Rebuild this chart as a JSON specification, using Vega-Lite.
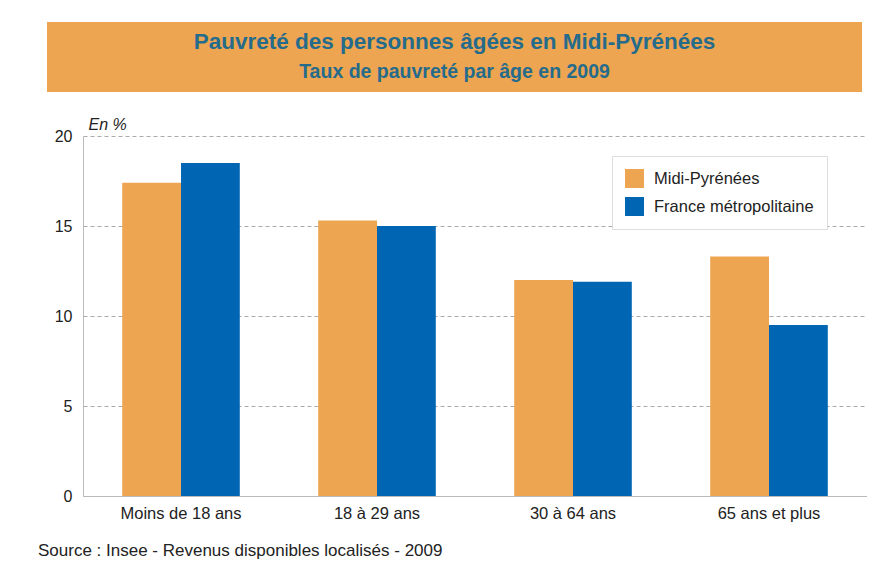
{
  "$schema": "https://vega.github.io/schema/vega-lite/v6.json",
  "background": "white",
  "padding": {"left": 38, "top": 22, "right": 0, "bottom": 0},
  "config": {
    "font": "Liberation Sans",
    "view": {"stroke": null},
    "concat": {"spacing": 24}
  },
  "title": {
    "text": "Source : Insee - Revenus disponibles localisés - 2009",
    "orient": "bottom",
    "anchor": "start",
    "frame": "bounds",
    "fontSize": 17,
    "fontWeight": "normal",
    "color": "#222222",
    "offset": 21,
    "dx": -9
  },
  "resolve": {"legend": {"color": "independent"}},
  "vconcat": [
    {
      "width": 815,
      "height": 70,
      "view": {"fill": "#EDA551", "stroke": null},
      "data": {
        "values": [
          {"ligne": "titre", "texte": "Pauvreté des personnes âgées en Midi-Pyrénées"},
          {"ligne": "sous-titre", "texte": "Taux de pauvreté par âge en 2009"}
        ]
      },
      "encoding": {
        "y": {"field": "ligne", "type": "nominal", "sort": ["titre", "sous-titre"], "axis": null, "scale": {"padding": 0.667}},
        "text": {"field": "texte", "type": "nominal"}
      },
      "layer": [
        {
          "transform": [{"filter": "datum.ligne === 'titre'"}],
          "mark": {"type": "text", "fontSize": 22.5, "fontWeight": "bold", "color": "#256B8C"}
        },
        {
          "transform": [{"filter": "datum.ligne === 'sous-titre'"}],
          "mark": {"type": "text", "fontSize": 19.5, "fontWeight": "bold", "color": "#256B8C"}
        }
      ]
    },
    {
      "width": 820,
      "height": 360,
      "data": {
        "values": [
          {"age": "Moins de 18 ans", "zone": "Midi-Pyrénées", "taux": 17.4},
          {"age": "Moins de 18 ans", "zone": "France métropolitaine", "taux": 18.5},
          {"age": "18 à 29 ans", "zone": "Midi-Pyrénées", "taux": 15.3},
          {"age": "18 à 29 ans", "zone": "France métropolitaine", "taux": 15.0},
          {"age": "30 à 64 ans", "zone": "Midi-Pyrénées", "taux": 12.0},
          {"age": "30 à 64 ans", "zone": "France métropolitaine", "taux": 11.9},
          {"age": "65 ans et plus", "zone": "Midi-Pyrénées", "taux": 13.3},
          {"age": "65 ans et plus", "zone": "France métropolitaine", "taux": 9.5}
        ]
      },
      "resolve": {"axis": {"y": "independent"}},
      "layer": [
        {
          "mark": {"type": "bar"},
          "encoding": {
            "x": {
              "field": "age",
              "type": "nominal",
              "sort": null,
              "scale": {"range": [36, 820], "paddingInner": 0.4, "paddingOuter": 0.2},
              "axis": {
                "title": null,
                "labelAngle": 0,
                "ticks": false,
                "labelPadding": 9,
                "labelFontSize": 16.5,
                "labelColor": "#222222",
                "domainColor": "#bbbbbb"
              }
            },
            "xOffset": {"field": "zone", "type": "nominal", "sort": ["Midi-Pyrénées", "France métropolitaine"]},
            "y": {
              "field": "taux",
              "type": "quantitative",
              "scale": {"domain": [0, 20], "nice": false},
              "axis": {
                "offset": -36,
                "title": "En %",
                "titleAngle": 0,
                "titleX": 5,
                "titleY": -7,
                "titleAlign": "left",
                "titleBaseline": "alphabetic",
                "titleFontStyle": "italic",
                "titleFontWeight": "normal",
                "titleFontSize": 16,
                "titleColor": "#222222",
                "values": [0, 5, 10, 15, 20],
                "ticks": false,
                "labelPadding": 11,
                "labelFontSize": 16,
                "labelColor": "#222222",
                "domainColor": "#bbbbbb",
                "gridColor": "#aaaaaa",
                "gridDash": [4, 3]
              }
            },
            "color": {
              "field": "zone",
              "type": "nominal",
              "scale": {"domain": ["Midi-Pyrénées", "France métropolitaine"], "range": ["#EDA551", "#0066B3"]},
              "legend": {
                "title": null,
                "orient": "none",
                "legendX": 565,
                "legendY": 20,
                "fillColor": "white",
                "strokeColor": "#dddddd",
                "padding": 13,
                "symbolType": "square",
                "symbolSize": 360,
                "symbolStrokeWidth": 0,
                "symbolOpacity": 1,
                "labelFontSize": 16.5,
                "labelColor": "#222222",
                "labelOffset": 10,
                "rowPadding": 9,
                "labelLimit": 300
              }
            }
          }
        },
        {
          "mark": {"type": "rule", "opacity": 0},
          "encoding": {
            "y": {
              "field": "taux",
              "type": "quantitative",
              "axis": {
                "orient": "right",
                "title": null,
                "labels": false,
                "ticks": false,
                "grid": false,
                "domainColor": "#cccccc"
              }
            }
          }
        }
      ]
    }
  ]
}
